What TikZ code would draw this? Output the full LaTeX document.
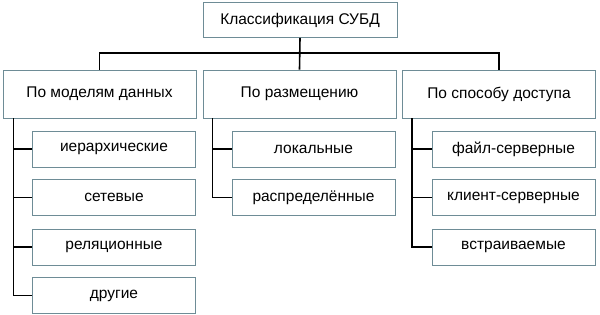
\documentclass[tikz,border=0pt]{standalone}
\usepackage{fontspec}
\setmainfont{Liberation Sans}
\definecolor{boxline}{RGB}{110,140,150}
\tikzset{
  box/.style={draw=boxline, line width=0.8pt, fill=white, inner sep=0pt,
    font=\fontsize{15.5}{18}\selectfont},
  top/.style={box, minimum width=194pt, minimum height=35pt},
  group/.style={box, minimum width=193pt, minimum height=48pt},
  kind/.style={box, minimum width=163pt, minimum height=36pt},
  link/.style={line width=1.6pt, black}
}
\begin{document}
\begin{tikzpicture}[x=1pt,y=-1pt]
  \useasboundingbox (0,0) rectangle (600,315);

  % Root
  \node[top] (root) at (300,20) {Классификация СУБД};

  % Three groups
  \node[group] (models) at (99.5,94) {По моделям данных};
  \node[group] (place) at (299.5,94) {По размещению};
  \node[group] (access) at (499,94) {По способу доступа};

  % Kinds under each group
  \node[kind] (hier) at (114,149) {иерархические};
  \node[kind] (net) at (114,197.5) {сетевые};
  \node[kind] (rel) at (114,247) {реляционные};
  \node[kind] (other) at (114,295.5) {другие};

  \node[kind] (local) at (313.5,149) {локальные};
  \node[kind] (distr) at (313.5,197.5) {распределённые};

  \node[kind] (file) at (513.5,149) {файл-серверные};
  \node[kind] (client) at (513.5,197.5) {клиент-серверные};
  \node[kind] (embed) at (513.5,247) {встраиваемые};

  % Root to groups
  \coordinate (fork) at (300,53);
  \draw[link] (root.south) -- (place.north);
  \draw[link] (fork) -| (models.north);
  \draw[link] (fork) -| (access.north);

  % Groups to kinds
  \foreach \k in {hier,net,rel,other}
    \draw[link] ([xshift=11pt]models.south west) |- (\k.west);
  \foreach \k in {local,distr}
    \draw[link] ([xshift=10pt]place.south west) |- (\k.west);
  \foreach \k in {file,client,embed}
    \draw[link] ([xshift=10pt]access.south west) |- (\k.west);
\end{tikzpicture}
\end{document}
